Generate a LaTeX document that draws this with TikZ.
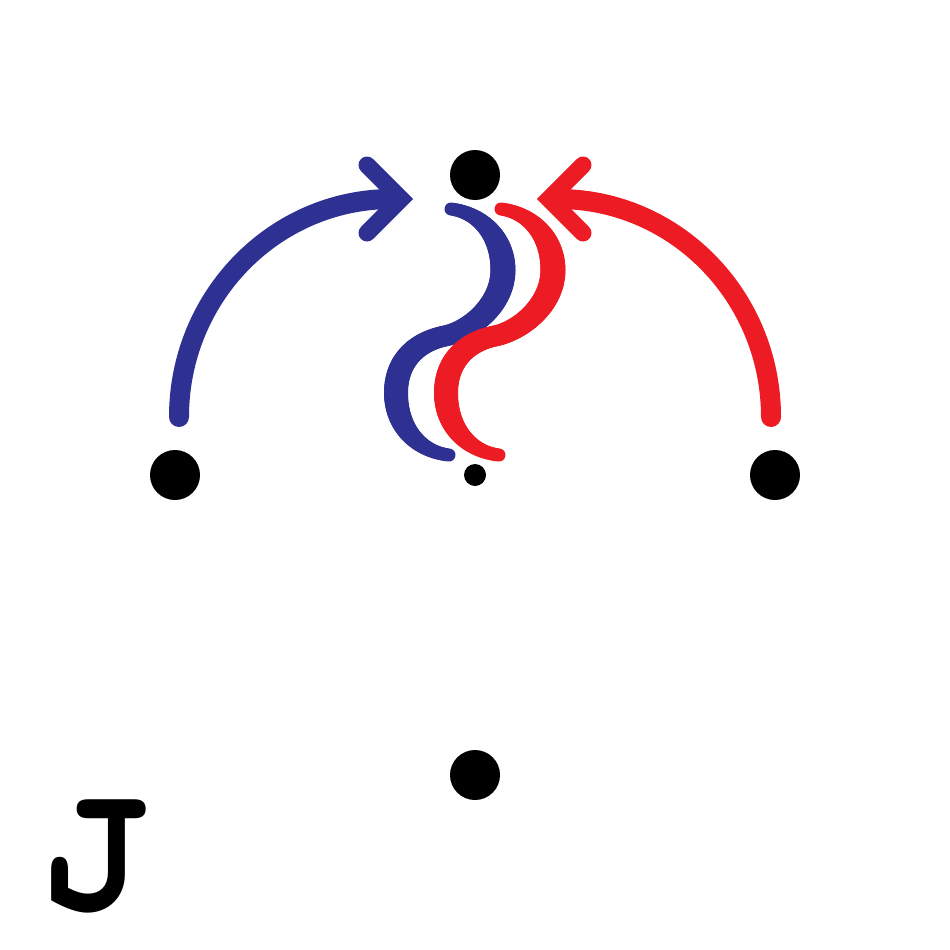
\documentclass[tikz,border=0pt]{standalone}
\usepackage{fontspec}
\newfontfamily\jfont{texgyrecursor}[Extension=.otf,UprightFont=*-regular,BoldFont=*-bold]
\definecolor{sblue}{HTML}{2E3192}
\definecolor{sred}{HTML}{ED1C24}
\def\TBparse#1/#2/#3/#4/#5/#6/#7/#8\relax{\def\TBax{#1}\def\TBay{#2}\def\TBbx{#3}\def\TBby{#4}\def\TBcx{#5}\def\TBcy{#6}\def\TBdx{#7}\def\TBdy{#8}}
\newcommand\TBez[5]{%
  \TBparse#5\relax
  \foreach \k in {0,...,29}{%
    \pgfmathsetmacro\TBta{\k/30}%
    \pgfmathsetmacro\TBtb{(\k+1)/30}%
    \pgfmathsetmacro\TBtm{(\k+0.5)/30}%
    \pgfmathsetmacro\TBxa{#2+(1-\TBta)^3*\TBax+3*(1-\TBta)^2*\TBta*\TBbx+3*(1-\TBta)*\TBta^2*\TBcx+\TBta^3*\TBdx}%
    \pgfmathsetmacro\TBya{(1-\TBta)^3*\TBay+3*(1-\TBta)^2*\TBta*\TBby+3*(1-\TBta)*\TBta^2*\TBcy+\TBta^3*\TBdy}%
    \pgfmathsetmacro\TBxb{#2+(1-\TBtb)^3*\TBax+3*(1-\TBtb)^2*\TBtb*\TBbx+3*(1-\TBtb)*\TBtb^2*\TBcx+\TBtb^3*\TBdx}%
    \pgfmathsetmacro\TByb{(1-\TBtb)^3*\TBay+3*(1-\TBtb)^2*\TBtb*\TBby+3*(1-\TBtb)*\TBtb^2*\TBcy+\TBtb^3*\TBdy}%
    \pgfmathsetmacro\TBw{#3+(#4-#3)*(3*\TBtm^2-2*\TBtm^3)}%
    \draw[#1,line width=\TBw pt,line cap=round] (\TBxa,\TBya) -- (\TBxb,\TByb);
  }}
\begin{document}
\begin{tikzpicture}[x=1pt,y=-1pt,
  bigdot/.style={circle,fill=black,inner sep=0pt,minimum size=50pt},
  smalldot/.style={circle,fill=black,inner sep=0pt,minimum size=22pt},
  bendline/.style={line width=20pt,line cap=round},
  chev/.style={line width=17pt,line cap=round,line join=miter}]
\useasboundingbox (0,0) rectangle (950,950);
\node[bigdot] (left) at (175,475) {};
\node[bigdot] (top) at (475,175) {};
\node[bigdot] (right) at (775,475) {};
\node[bigdot] (bottom) at (475,775) {};
\node[smalldot] (centre) at (475,475) {};
% blue arrow
\coordinate (bs) at (179,417);
\coordinate (be) at (392,199);
\coordinate (bu) at (367,165);
\coordinate (bt) at (401,199);
\coordinate (bl) at (367,233);
\draw[sblue,bendline] (bs) .. controls +(0,-120) and +(-118,0) .. (be);
\draw[sblue,chev] (bu) -- (bt) -- (bl);
% red arrow
\coordinate (rs) at (771,417);
\coordinate (re) at (558,199);
\coordinate (ru) at (583,165);
\coordinate (rt) at (549,199);
\coordinate (rl) at (583,233);
\draw[sred,bendline] (rs) .. controls +(0,-120) and +(118,0) .. (re);
\draw[sred,chev] (ru) -- (rt) -- (rl);
% blue S
\TBez{sblue}{0}{13}{25}{451/209/481/213/503/238/503/270}
\TBez{sblue}{0}{25}{21}{503/270/503/305/470/331/445/336}
\TBez{sblue}{0}{21}{24}{445/336/420/341/396/358/396/393}
\TBez{sblue}{0}{24}{13}{396/393/396/428/420/452/449/455}
% red S
\TBez{sred}{50}{13}{25}{451/209/481/213/503/238/503/270}
\TBez{sred}{50}{25}{21}{503/270/503/305/470/331/445/336}
\TBez{sred}{50}{21}{24}{445/336/420/341/396/358/396/393}
\TBez{sred}{50}{24}{13}{396/393/396/428/420/452/449/455}
% letter
\node[anchor=base,inner sep=0pt] (jletter) at (93,910) {\scalebox{0.89}[1]{\jfont\bfseries\fontsize{190}{190}\selectfont J}};
\end{tikzpicture}
\end{document}
